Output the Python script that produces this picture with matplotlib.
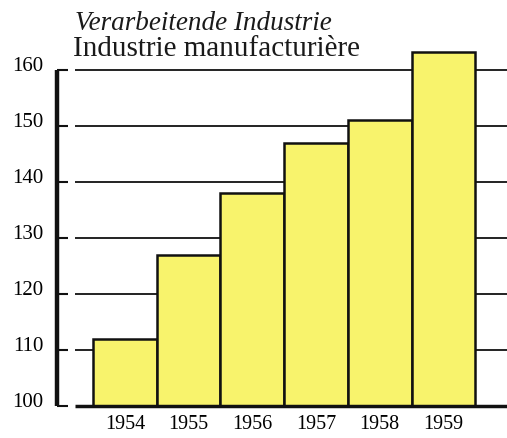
import matplotlib.pyplot as plt

years = ['1954', '1955', '1956', '1957', '1958', '1959']
index = [112, 127, 138, 147, 151, 163.2]
yticks = [100, 110, 120, 130, 140, 150, 160]

W, H = 507, 439
fig = plt.figure(figsize=(W / 100, H / 100), dpi=100)

# axes: left spine at x=57px, y=100 at 407px, 10 units = 56px
px_per_unit = 5.6
bottom_px = H - 407
ax = fig.add_axes([57 / W, bottom_px / H, (W - 57) / W, 66 * px_per_unit / H])

bar_px = 63.7
x0 = -0.5 - (93 - 57) / bar_px
x1 = -0.5 + (W - 93) / bar_px
ax.set_xlim(x0, x1)
ax.set_ylim(100, 166)

grid_start = -0.5 - (93 - 75) / bar_px
ax.hlines(yticks[1:], grid_start, x1, color='#222222', lw=1.4, zorder=1)
ax.hlines(100, grid_start, x1, color='#111111', lw=2.5, zorder=4, clip_on=False)

ax.bar(range(len(years)), index, width=1.0, color='#f8f36c',
       edgecolor='#111111', linewidth=1.8, zorder=2)

for s in ax.spines.values():
    s.set_visible(False)
ax.plot([x0, x0], [100, 160], color='#111111', lw=3.2, clip_on=False,
        zorder=5, solid_capstyle='butt')

serif = ['Liberation Serif', 'DejaVu Serif']
ax.set_yticks(yticks)
ax.set_yticklabels([str(v) for v in yticks], family=serif, fontsize=15)
for lbl in ax.get_yticklabels():
    lbl.set_va('baseline')
ax.tick_params(axis='y', direction='in', length=8, width=1.5, pad=10,
               color='#111111')

ax.set_xticks(range(len(years)))
ax.set_xticklabels(years, family=serif, fontsize=14.5)
ax.tick_params(axis='x', length=0, pad=6)

fig.text(75 / W, 1 - 30 / H, 'Verarbeitende Industrie', family=serif,
         style='italic', fontsize=19.5, va='baseline', color='#1a1a1a')
fig.text(73 / W, 1 - 56 / H, 'Industrie manufacturière', family=serif,
         fontsize=21, va='baseline', color='#1a1a1a')

fig.savefig('out.png', dpi=100)
